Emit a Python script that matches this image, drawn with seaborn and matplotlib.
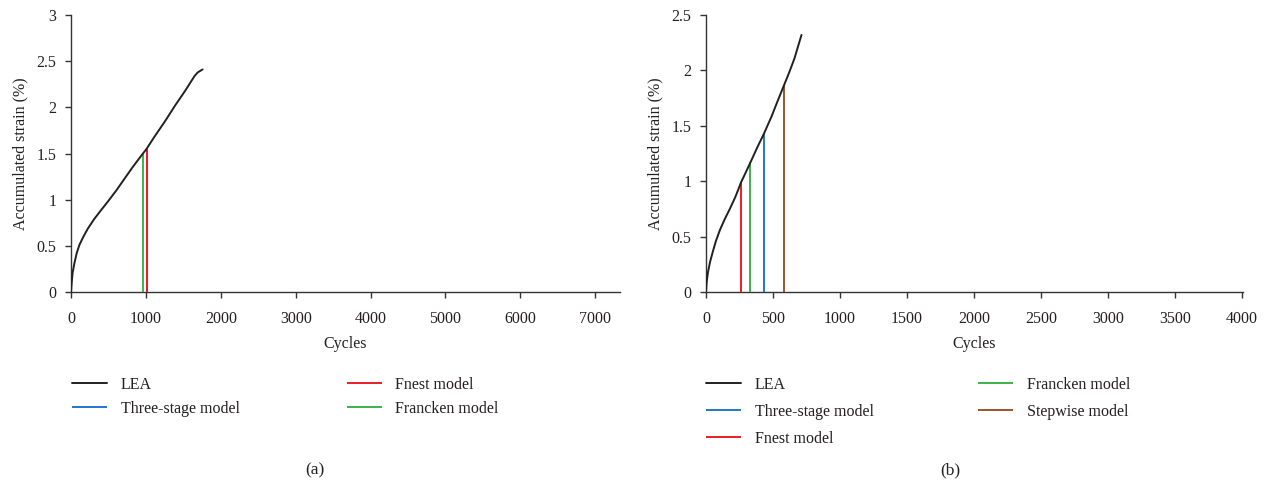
import matplotlib
matplotlib.use("Agg")
import matplotlib.pyplot as plt
import seaborn as sns
import pandas as pd

# ---- data ----
a_cycles = [0, 9, 22, 45, 76, 112, 166, 224, 305, 395, 493, 605, 717, 830, 951, 1009,
            1121, 1256, 1390, 1525, 1650, 1695, 1757]
a_strain = [0, 0.10, 0.21, 0.31, 0.42, 0.51, 0.60, 0.685, 0.785, 0.88, 0.98, 1.10, 1.23, 1.36,
            1.49, 1.55, 1.69, 1.85, 2.02, 2.18, 2.34, 2.38, 2.41]
a_model_names = ["Three-stage model", "Fnest model", "Francken model"]
a_model_cycles = [1010, 1010, 955]
a_model_strain = [1.55, 1.55, 1.49]

b_cycles = [0, 5, 15, 30, 50, 74, 104, 141, 178, 220, 262, 332, 381, 433, 488, 537,
            584, 624, 661, 713]
b_strain = [0, 0.09, 0.18, 0.27, 0.36, 0.46, 0.56, 0.66, 0.75, 0.86, 0.99, 1.17, 1.30,
            1.43, 1.58, 1.73, 1.87, 1.99, 2.11, 2.32]
b_model_names = ["Three-stage model", "Fnest model", "Francken model", "Stepwise model"]
b_model_cycles = [433, 262, 332, 584]
b_model_strain = [1.43, 0.99, 1.17, 1.87]

a_xticks = [0, 1000, 2000, 3000, 4000, 5000, 6000, 7000]
a_yticks = [0, 0.5, 1, 1.5, 2, 2.5, 3]
b_xticks = [0, 500, 1000, 1500, 2000, 2500, 3000, 3500, 4000]
b_yticks = [0, 0.5, 1, 1.5, 2, 2.5]

colors = {"LEA": "#231f20", "Three-stage model": "#1f78c8", "Fnest model": "#ed1c24",
          "Francken model": "#3cb44b", "Stepwise model": "#a0522d"}

sns.set_theme(style="ticks")
plt.rcParams["font.family"] = ["Liberation Serif", "DejaVu Serif"]
txt = "#231f20"
plt.rcParams.update({"text.color": txt, "axes.labelcolor": txt, "xtick.color": "#333333",
                     "ytick.color": "#333333", "axes.edgecolor": "#333333",
                     "xtick.labelcolor": txt, "ytick.labelcolor": txt})

fig = plt.figure(figsize=(12.69, 4.87), dpi=100)
axa = fig.add_axes([71/1269, 1-292/487, (620-71)/1269, (292-15)/487])
axb = fig.add_axes([706/1269, 1-292/487, (1243-706)/1269, (292-15)/487])

def fmt(v):
    return ("%g" % v)

def draw(ax, cyc, strain, names, mcyc, mstrain, xticks, yticks, xmax, ymax):
    df = pd.DataFrame({"Cycles": cyc, "strain": strain})
    sns.lineplot(data=df, x="Cycles", y="strain", ax=ax, color=colors["LEA"], lw=1.4,
                 label="LEA", sort=False, zorder=5)
    for n, c, s in zip(names, mcyc, mstrain):
        ax.vlines(c, 0, s, color=colors[n], lw=1.4, label=n,
                  zorder=3 if n == "Three-stage model" else 4)
    ax.set_xlim(0, xmax)
    ax.set_ylim(0, ymax)
    ax.set_xticks(xticks)
    ax.set_xticklabels([fmt(v) for v in xticks])
    ax.set_yticks(yticks)
    ax.set_yticklabels([fmt(v) for v in yticks])
    ax.tick_params(labelsize=11.5, length=4, width=1, direction="out")
    ax.tick_params(axis="x", pad=10)
    ax.tick_params(axis="y", pad=6.5)
    ax.set_xlabel("Cycles", fontsize=11.5, labelpad=6)
    ax.set_ylabel("Accumulated strain (%)", fontsize=11.5, labelpad=6)
    for sp in ["top", "right"]:
        ax.spines[sp].set_visible(False)
    for sp in ["left", "bottom"]:
        ax.spines[sp].set_linewidth(1)
    if ax.get_legend():
        ax.get_legend().remove()

draw(axa, a_cycles, a_strain, a_model_names, a_model_cycles, a_model_strain, a_xticks, a_yticks, 7330, 3)
draw(axb, b_cycles, b_strain, b_model_names, b_model_cycles, b_model_strain, b_xticks, b_yticks, 4010, 2.5)

def legend(ax, order, x, y, colsp, lsp):
    h, l = ax.get_legend_handles_labels()
    d = dict(zip(l, h))
    fig.legend([d[k] for k in order], order, loc="upper left", bbox_to_anchor=(x/1269, 1-y/487),
               ncol=2, frameon=False, fontsize=11.5, handlelength=2.2, handletextpad=0.85,
               columnspacing=colsp, labelspacing=lsp, borderpad=0, borderaxespad=0)

legend(axa, ["LEA", "Three-stage model", "Fnest model", "Francken model"], 72, 377, 6.7, 0.5)
legend(axb, ["LEA", "Three-stage model", "Fnest model", "Francken model", "Stepwise model"], 706, 377, 6.55, 0.68)

fig.text(315/1269, 1-470/487, "(a)", ha="center", va="center", fontsize=12.5)
fig.text(950/1269, 1-470/487, "(b)", ha="center", va="center", fontsize=12.5)

fig.savefig("out.png", dpi=100)
